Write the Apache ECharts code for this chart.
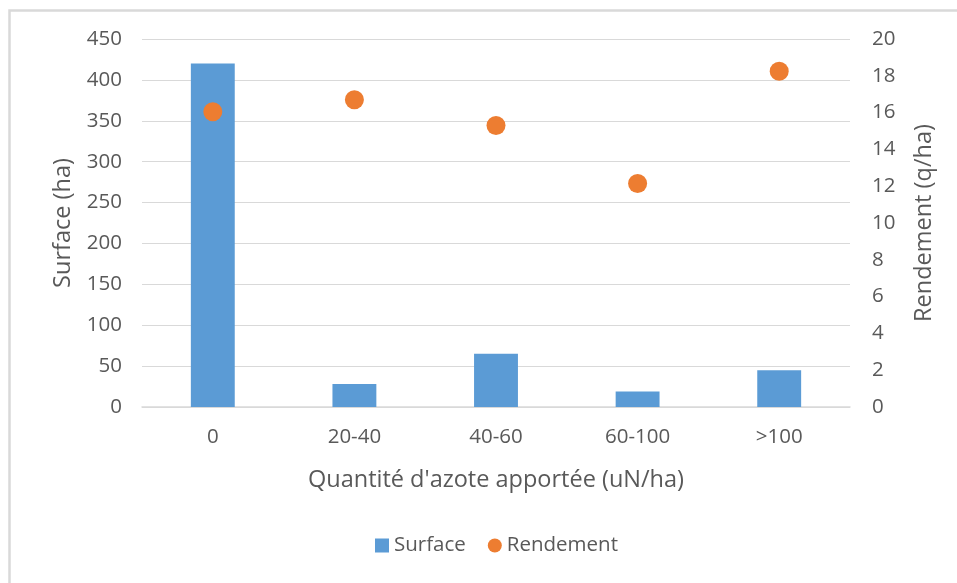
<!DOCTYPE html>
<html>
<head>
<meta charset="utf-8">
<script src="https://cdn.jsdelivr.net/npm/echarts@6/dist/echarts.min.js"></script>
<style>
  html, body { margin: 0; padding: 0; background: #fff; }
  #chart { width: 957px; height: 583px; }
</style>
</head>
<body>
<div id="chart"></div>
<script>
// Nitrogen application classes (uN/ha)
const categories = ['0', '20-40', '40-60', '60-100', '>100'];
// Cultivated area per class (ha)
const surface = [420, 28, 65, 19, 45];
// Yield per class (q/ha)
const rendement = [16.05, 16.7, 15.3, 12.15, 18.25];

// Axis ranges
const surfaceAxis = { min: 0, max: 450, interval: 50 };
const rendementAxis = { min: 0, max: 20, interval: 2 };

const TEXT = '#595959';
const GRID = '#D9D9D9';
const FONT = '"Open Sans", "Liberation Sans", sans-serif';

const chart = echarts.init(document.getElementById('chart'), null, { renderer: 'canvas' });

chart.setOption({
  animation: false,
  backgroundColor: '#ffffff',
  textStyle: { fontFamily: FONT, color: TEXT },
  graphic: [{
    type: 'rect',
    shape: { x: 9.5, y: 10.5, width: 1200, height: 1200 },
    style: { fill: 'none', stroke: GRID, lineWidth: 2.5 },
    silent: true
  }],
  grid: { left: 142, right: 107, top: 39, bottom: 176, containLabel: false },
  legend: {
    bottom: 22,
    left: 370,
    itemGap: 22,
    itemWidth: 14,
    itemHeight: 14,
    textStyle: { fontFamily: FONT, fontSize: 20.5, color: TEXT },
    data: [
      { name: 'Surface', icon: 'rect' },
      { name: 'Rendement', icon: 'circle' }
    ]
  },
  xAxis: {
    type: 'category',
    data: categories,
    name: "Quantité d'azote apportée (uN/ha)",
    nameLocation: 'middle',
    nameGap: 61,
    nameTextStyle: { fontFamily: FONT, fontSize: 23.5, color: TEXT },
    axisLine: { lineStyle: { color: GRID, width: 1.5 } },
    axisTick: { show: false },
    axisLabel: { fontFamily: FONT, fontSize: 20.5, color: TEXT, margin: 20 }
  },
  yAxis: [{
    type: 'value',
    min: surfaceAxis.min,
    max: surfaceAxis.max,
    interval: surfaceAxis.interval,
    name: 'Surface (ha)',
    nameLocation: 'middle',
    nameGap: 67,
    nameTextStyle: { fontFamily: FONT, fontSize: 23.5, color: TEXT },
    axisLine: { show: false },
    axisTick: { show: false },
    axisLabel: { fontFamily: FONT, fontSize: 20.5, color: TEXT, margin: 20 },
    splitLine: { lineStyle: { color: GRID, width: 1.2 } }
  }, {
    type: 'value',
    min: rendementAxis.min,
    max: rendementAxis.max,
    interval: rendementAxis.interval,
    name: 'Rendement (q/ha)',
    nameLocation: 'middle',
    nameGap: 62,
    nameRotate: 90,
    nameTextStyle: { fontFamily: FONT, fontSize: 23.5, color: TEXT },
    axisLine: { show: false },
    axisTick: { show: false },
    axisLabel: { fontFamily: FONT, fontSize: 20.5, color: TEXT, margin: 22 },
    splitLine: { show: false }
  }],
  series: [{
    name: 'Surface',
    type: 'bar',
    yAxisIndex: 0,
    barWidth: '31%',
    itemStyle: { color: '#5B9BD5' },
    data: surface
  }, {
    name: 'Rendement',
    type: 'scatter',
    yAxisIndex: 1,
    symbol: 'circle',
    symbolSize: 19,
    itemStyle: { color: '#ED7D31', opacity: 1 },
    data: rendement
  }]
});
</script>
</body>
</html>
